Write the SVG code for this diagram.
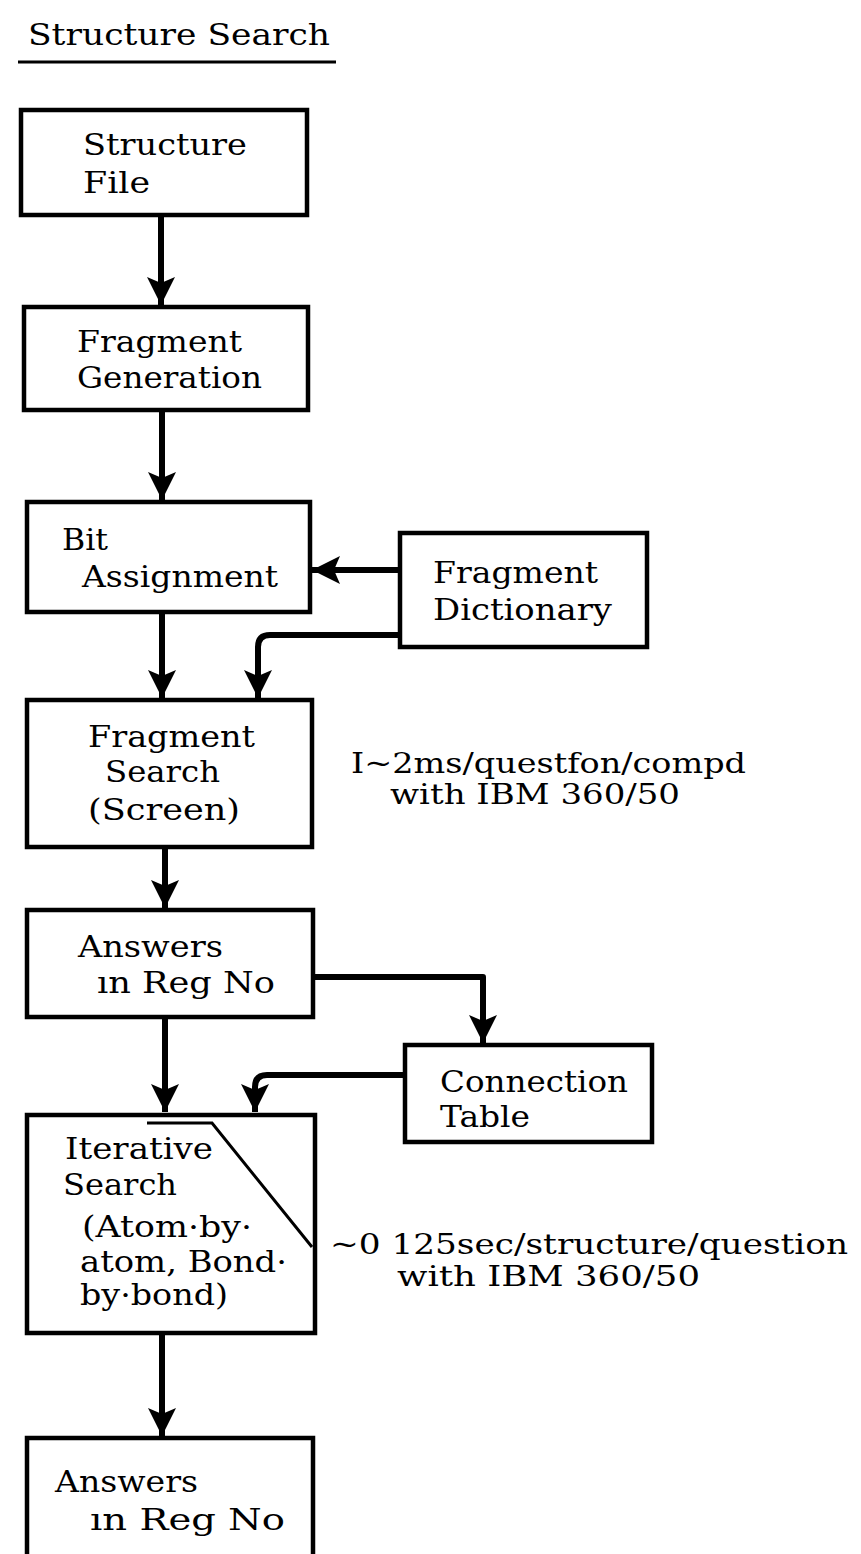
<svg xmlns="http://www.w3.org/2000/svg" width="861" height="1554" viewBox="0 0 861 1554">
<style>
.box{fill:#fff;stroke:#000;stroke-width:4.5}
.t{font-family:"DejaVu Serif","Liberation Serif",serif;font-size:29px;fill:#000}
.a{font-family:"DejaVu Serif","Liberation Serif",serif;font-size:28px;fill:#000}
.c{fill:none;stroke:#000;stroke-width:6;stroke-linejoin:round}
</style>
<defs>
<marker id="ah" markerUnits="userSpaceOnUse" markerWidth="32" markerHeight="32" viewBox="0 0 32 32" refX="30" refY="16" orient="auto">
<path d="M2,2 L30,16 L2,30 L8,16 Z" fill="#000"/>
</marker>
</defs>
<rect width="861" height="1554" fill="#fff"/>
<g id="title">
<text class="t" x="28" y="45" textLength="302" lengthAdjust="spacingAndGlyphs">Structure Search</text>
<line x1="18" y1="62" x2="336" y2="62" stroke="#000" stroke-width="3"/>
</g>
<g id="connectors">
<line class="c" x1="161" y1="215" x2="161" y2="305" marker-end="url(#ah)"/>
<line class="c" x1="162" y1="410" x2="162" y2="500" marker-end="url(#ah)"/>
<line class="c" x1="400" y1="570" x2="312" y2="570" marker-end="url(#ah)"/>
<line class="c" x1="162" y1="612" x2="162" y2="698" marker-end="url(#ah)"/>
<path class="c" d="M400,635 L270,635 Q258,635 258,647 L258,698" marker-end="url(#ah)"/>
<line class="c" x1="165" y1="847" x2="165" y2="908" marker-end="url(#ah)"/>
<path class="c" d="M313,977 L483,977 L483,1043" marker-end="url(#ah)"/>
<line class="c" x1="165" y1="1017" x2="165" y2="1112" marker-end="url(#ah)"/>
<path class="c" d="M405,1075 L267,1075 Q255,1075 255,1087 L255,1112" marker-end="url(#ah)"/>
<line class="c" x1="162" y1="1333" x2="162" y2="1436" marker-end="url(#ah)"/>
</g>
<g id="structure-file">
<rect class="box" x="21" y="110" width="286" height="105"/>
<text class="t" x="83" y="155" textLength="164" lengthAdjust="spacingAndGlyphs">Structure</text>
<text class="t" x="83" y="193" textLength="67" lengthAdjust="spacingAndGlyphs">File</text>
</g>
<g id="fragment-generation">
<rect class="box" x="24" y="307" width="284" height="103"/>
<text class="t" x="77" y="352" textLength="165" lengthAdjust="spacingAndGlyphs">Fragment</text>
<text class="t" x="77" y="388" textLength="185" lengthAdjust="spacingAndGlyphs">Generation</text>
</g>
<g id="bit-assignment">
<rect class="box" x="27" y="502" width="283" height="110"/>
<text class="t" x="62" y="550" textLength="46" lengthAdjust="spacingAndGlyphs">Bit</text>
<text class="t" x="82" y="587" textLength="196" lengthAdjust="spacingAndGlyphs">Assignment</text>
</g>
<g id="fragment-dictionary">
<rect class="box" x="400" y="533" width="247" height="114"/>
<text class="t" x="433" y="583" textLength="165" lengthAdjust="spacingAndGlyphs">Fragment</text>
<text class="t" x="433" y="620" textLength="179" lengthAdjust="spacingAndGlyphs">Dictionary</text>
</g>
<g id="fragment-search">
<rect class="box" x="27" y="700" width="285" height="147"/>
<text class="t" x="88" y="747" textLength="167" lengthAdjust="spacingAndGlyphs">Fragment</text>
<text class="t" x="105" y="782" textLength="115" lengthAdjust="spacingAndGlyphs">Search</text>
<text class="t" x="88" y="820" textLength="152" lengthAdjust="spacingAndGlyphs">(Screen)</text>
</g>
<g id="note-screen">
<text class="a" x="351" y="773" textLength="395" lengthAdjust="spacingAndGlyphs">I~2ms/questfon/compd</text>
<text class="a" x="390" y="804" textLength="290" lengthAdjust="spacingAndGlyphs">with IBM 360/50</text>
</g>
<g id="answers-1">
<rect class="box" x="27" y="910" width="286" height="107"/>
<text class="t" x="78" y="957" textLength="145" lengthAdjust="spacingAndGlyphs">Answers</text>
<text class="t" x="97" y="993" textLength="178" lengthAdjust="spacingAndGlyphs">ın Reg No</text>
</g>
<g id="connection-table">
<rect class="box" x="405" y="1045" width="247" height="97"/>
<text class="t" x="440" y="1092" textLength="188" lengthAdjust="spacingAndGlyphs">Connection</text>
<text class="t" x="440" y="1127" textLength="90" lengthAdjust="spacingAndGlyphs">Table</text>
</g>
<g id="iterative-search">
<rect class="box" x="27" y="1115" width="288" height="218"/>
<path d="M147,1123 L212,1123 L312,1247" fill="none" stroke="#000" stroke-width="3"/>
<text class="t" x="65" y="1159" textLength="148" lengthAdjust="spacingAndGlyphs">Iterative</text>
<text class="t" x="63" y="1195" textLength="114" lengthAdjust="spacingAndGlyphs">Search</text>
<text class="t" x="82" y="1237" textLength="170" lengthAdjust="spacingAndGlyphs">(Atom·by·</text>
<text class="t" x="80" y="1272" textLength="207" lengthAdjust="spacingAndGlyphs">atom, Bond·</text>
<text class="t" x="80" y="1305" textLength="148" lengthAdjust="spacingAndGlyphs">by·bond)</text>
</g>
<g id="note-iterative">
<text class="a" x="330" y="1254" textLength="518" lengthAdjust="spacingAndGlyphs">~0 125sec/structure/question</text>
<text class="a" x="397" y="1286" textLength="303" lengthAdjust="spacingAndGlyphs">with IBM 360/50</text>
</g>
<g id="answers-2">
<rect class="box" x="27" y="1438" width="286" height="130"/>
<text class="t" x="55" y="1492" textLength="143" lengthAdjust="spacingAndGlyphs">Answers</text>
<text class="t" x="90" y="1530" textLength="195" lengthAdjust="spacingAndGlyphs">ın Reg  No</text>
</g>
</svg>
